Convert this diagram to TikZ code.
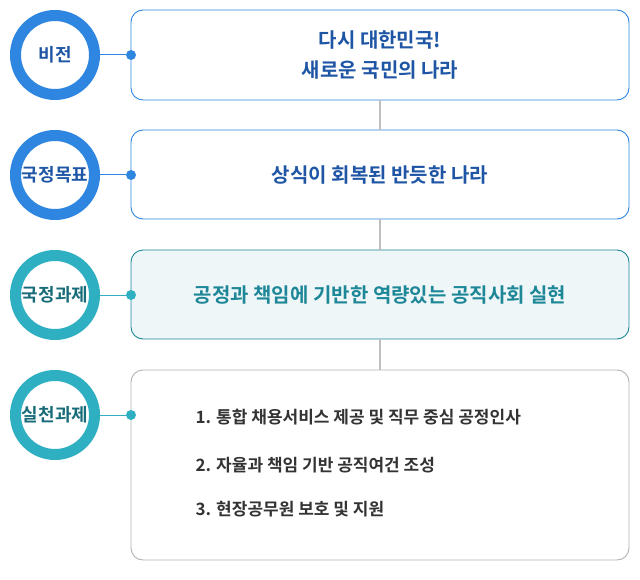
\documentclass[tikz,border=0pt]{standalone}
\usepackage{fontspec}
\setmainfont{Noto Sans CJK KR}
\newfontfamily\krb{Noto Sans CJK KR Bold}
\definecolor{bluer}{HTML}{2E86E0}
\definecolor{bluel}{HTML}{6FB0EE}
\definecolor{bluet}{HTML}{1E55A5}
\definecolor{tealr}{HTML}{2FB0C2}
\definecolor{teall}{HTML}{7CCFDC}
\definecolor{tealt}{HTML}{1E8797}
\definecolor{tealb}{HTML}{EEF6F8}
\begin{document}
\begin{tikzpicture}[x=1pt,y=-1pt,
  ring/.style={circle,minimum size=79pt,line width=11pt,draw=#1,fill=white,font=\krb\fontsize{18}{20}\selectfont,inner sep=0},
  box/.style={draw=#1,rounded corners=12pt,fill=white,line width=0.9pt},
  dot/.style={circle,fill=#1,inner sep=0,minimum size=10pt},
  link/.style={draw=#1,line width=1pt},
  vline/.style={draw=gray!50,line width=1.2pt}]
\useasboundingbox (0,0) rectangle (640,580);
% boxes
\path[box=bluer] (131,10) rectangle (629,100);
\node[align=center,text=bluet,font=\krb\fontsize{20}{30}\selectfont] (t1) at (380,55) {다시 대한민국!\\새로운 국민의 나라};
\path[box=bluer] (131,130) rectangle (629,219);
\node[text=bluet,font=\krb\fontsize{20}{22}\selectfont] (t2) at (380,175) {상식이 회복된 반듯한 나라};
\path[box=tealt,fill=tealb] (131,250) rectangle (629,339);
\node[text=tealt,font=\krb\fontsize{20}{22}\selectfont] (t3) at (380,295) {공정과 책임에 기반한 역량있는 공직사회 실현};
\path[box=gray!60] (131,370) rectangle (629,560);
\node[anchor=west,text=black!80,font=\krb\fontsize{17}{19}\selectfont] (l1) at (192,417) {1. 통합 채용서비스 제공 및 직무 중심 공정인사};
\node[anchor=west,text=black!80,font=\krb\fontsize{17}{19}\selectfont] (l2) at (192,465) {2. 자율과 책임 기반 공직여건 조성};
\node[anchor=west,text=black!80,font=\krb\fontsize{17}{19}\selectfont] (l3) at (192,509) {3. 현장공무원 보호 및 지원};
% vertical connectors
\coordinate (v1) at (380,100); \coordinate (v2) at (380,130);
\coordinate (v3) at (380,219); \coordinate (v4) at (380,250);
\coordinate (v5) at (380,339); \coordinate (v6) at (380,370);
\path[vline] (v1)--(v2); \path[vline] (v3)--(v4); \path[vline] (v5)--(v6);
% circles
\node[ring=bluer,text=bluet] (c1) at (55,55) {비전};
\node[ring=bluer,text=bluet] (c2) at (55,175) {국정목표};
\node[ring=tealr,text=tealt!80!black] (c3) at (55,295) {국정과제};
\node[ring=tealr,text=tealt!80!black] (c4) at (55,415) {실천과제};
\node[dot=bluer] (d1) at (131,55) {};
\node[dot=bluer] (d2) at (131,175) {};
\node[dot=tealr] (d3) at (131,295) {};
\node[dot=tealr] (d4) at (131,415) {};
\path[link=bluer] (c1)--(d1); \path[link=bluer] (c2)--(d2);
\path[link=tealr] (c3)--(d3); \path[link=tealr] (c4)--(d4);
\end{tikzpicture}
\end{document}
